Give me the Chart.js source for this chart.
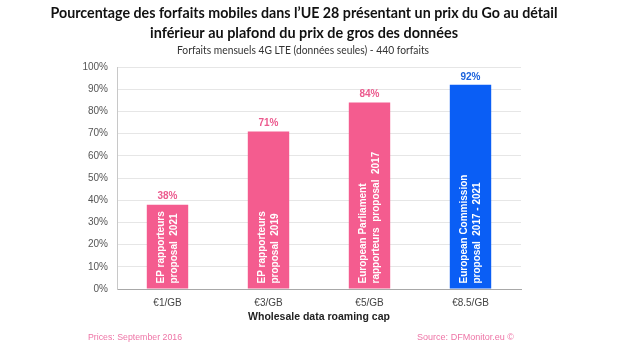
<!DOCTYPE html>
<html>
<head>
<meta charset="utf-8">
<script src="https://cdn.jsdelivr.net/npm/chart.js@4"></script>
<style>
  html, body { margin: 0; padding: 0; background: #fff; }
  #wrap { width: 620px; height: 350px; position: relative; }
</style>
</head>
<body>
<div id="wrap"><canvas id="myChart" width="620" height="350"></canvas></div>
<script>
const titleLines = [
  "Pourcentage des forfaits mobiles dans l\u2019UE 28 présentant un prix du Go au détail",
  "inférieur au plafond du prix de gros des données",
];
const subtitle = "Forfaits mensuels 4G LTE (données seules) - 440 forfaits";
const categories = ["€1/GB", "€3/GB", "€5/GB", "€8.5/GB"];
const values = [38, 71, 84, 92];
const barNotes = [
  ["EP rapporteurs", "proposal  2021"],
  ["EP rapporteurs", "proposal  2019"],
  ["European Parliament", "rapporteurs  proposal  2017"],
  ["European Commission", "proposal  2017 - 2021"],
];
const yTicks = [0, 10, 20, 30, 40, 50, 60, 70, 80, 90, 100];
const xTitle = "Wholesale data roaming cap";
const footLeft = "Prices: September 2016";
const footRight = "Source: DFMonitor.eu \u00a9";

const PINK = "#f45c8f";
const BLUE = "#0a5ef5";
const barColors = [PINK, PINK, PINK, BLUE];
const labelColors = ["#ec5a8e", "#ec5a8e", "#ec5a8e", "#1a62dc"];

// titles, in-bar notes, value labels, footer
const textPlugin = {
  id: "texts",
  afterDatasetsDraw(chart) {
    const ctx = chart.ctx;
    const meta = chart.getDatasetMeta(0);
    ctx.save();
    meta.data.forEach((bar, i) => {
      // value above bar
      ctx.fillStyle = labelColors[i];
      ctx.font = "bold 10px 'Liberation Sans', Arial, sans-serif";
      ctx.textAlign = "center";
      ctx.textBaseline = "middle";
      ctx.fillText(values[i] + "%", bar.x, bar.y - 8);

      // rotated note inside bar
      ctx.save();
      ctx.translate(bar.x, bar.base - 5);
      ctx.rotate(-Math.PI / 2);
      ctx.fillStyle = "#fff";
      ctx.textAlign = "left";
      ctx.textBaseline = "middle";
      ctx.fillText(barNotes[i][0], 0, -6);
      ctx.fillText(barNotes[i][1], 0, 7);
      ctx.restore();
    });
    ctx.restore();
  },
  afterDraw(chart) {
    const ctx = chart.ctx;
    ctx.save();
    ctx.fillStyle = "#111";
    ctx.textAlign = "center";
    ctx.textBaseline = "middle";
    ctx.font = "bold 15px Lato, sans-serif";
    ctx.fillText(titleLines[0], 304, 13, 507);
    ctx.fillText(titleLines[1], 304, 33, 308);
    ctx.fillStyle = "#333";
    ctx.font = "11px Lato, sans-serif";
    ctx.fillText(subtitle, 303, 50, 252);

    ctx.fillStyle = "#ee74a6";
    ctx.font = "9.5px 'Liberation Sans', Arial, sans-serif";
    ctx.textAlign = "left";
    ctx.fillText(footLeft, 88, 337, 94);
    ctx.fillText(footRight, 417, 337, 97);
    ctx.restore();
  },
};

const ctx = document.getElementById("myChart").getContext("2d");
new Chart(ctx, {
  type: "bar",
  data: {
    labels: categories,
    datasets: [{
      data: values,
      backgroundColor: barColors,
      barPercentage: 0.41,
      categoryPercentage: 1,
    }],
  },
  options: {
    responsive: false,
    animation: false,
    layout: { padding: { top: 67, right: 99, bottom: 21, left: 0 } },
    plugins: {
      legend: { display: false },
      tooltip: { enabled: false },
    },
    scales: {
      x: {
        grid: { display: false, drawTicks: false },
        border: { color: "#a8a8a8", width: 1 },
        ticks: {
          color: "#444",
          padding: 8,
          font: { family: "'Liberation Sans', Arial, sans-serif", size: 10 },
        },
        title: {
          display: true,
          text: xTitle,
          color: "#222",
          padding: { top: 0, bottom: 6 },
          font: { family: "'Liberation Sans', Arial, sans-serif", size: 10.5, weight: "bold" },
        },
        afterFit: (s) => { s.height = 40; },
      },
      y: {
        min: 0,
        max: 100,
        afterBuildTicks: (s) => { s.ticks = yTicks.map((v) => ({ value: v })); },
        grid: { color: "#e6e6e6", drawTicks: false },
        border: { color: "#c8c8c8", width: 1 },
        ticks: {
          color: "#555",
          padding: 9,
          font: { family: "'Liberation Sans', Arial, sans-serif", size: 10 },
          callback: (v) => v + "%",
        },
        afterFit: (s) => { s.width = 117; },
      },
    },
  },
  plugins: [textPlugin],
});
</script>
</body>
</html>
